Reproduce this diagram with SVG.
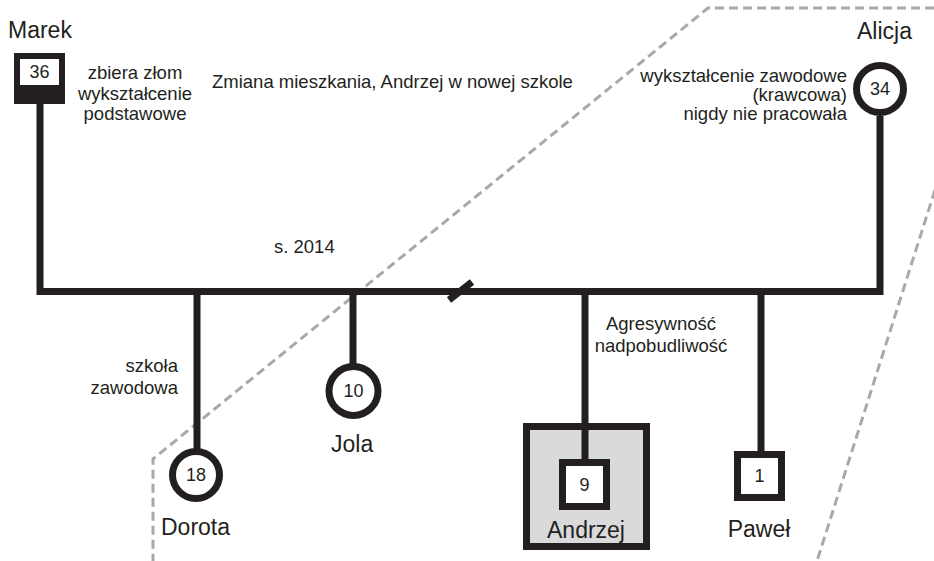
<svg xmlns="http://www.w3.org/2000/svg" width="934" height="561" viewBox="0 0 934 561">
<style>
text{font-family:"Liberation Sans",Arial,sans-serif;fill:#231f20}
.name{font-size:23px}
.note{font-size:18.5px}
.num{font-size:18px;text-anchor:middle}
.ln{stroke:#231f20;stroke-width:7;fill:none}
.dash{stroke:#a7a9ac;stroke-width:3;fill:none;stroke-dasharray:9 5}
.circ{fill:#fff;stroke:#231f20;stroke-width:7}
.sq{fill:#fff;stroke:#231f20;stroke-width:7}
</style>
<rect width="934" height="561" fill="#fff"/>
<g id="household-boundary">
<path class="dash" d="M934 8 H708 L153 459 V561"/>
<path class="dash" d="M935 190 L817 561"/>
</g>
<g id="connectors">
<path class="ln" d="M40 104 V291.5 H880 V116"/>
<line class="ln" x1="197" y1="291" x2="197" y2="449"/>
<line class="ln" x1="353" y1="291" x2="353" y2="364"/>
<line class="ln" x1="585" y1="291" x2="585" y2="460"/>
<line class="ln" x1="761" y1="291" x2="761" y2="452"/>
<line class="ln" x1="449" y1="300" x2="472" y2="282"/>
</g>
<g id="marek">
<rect x="14" y="53" width="51" height="51" fill="#231f20"/>
<rect x="20" y="59" width="39" height="26" fill="#fff"/>
<text class="num" x="39.5" y="78">36</text>
<text class="name" x="8" y="38">Marek</text>
<text class="note" text-anchor="middle"><tspan x="135" y="79">zbiera złom</tspan><tspan x="135" y="100">wykształcenie</tspan><tspan x="135" y="120">podstawowe</tspan></text>
</g>
<g id="alicja">
<circle class="circ" cx="880" cy="89" r="23.5"/>
<text class="num" x="880" y="95">34</text>
<text class="name" x="857" y="39">Alicja</text>
<text class="note" text-anchor="end"><tspan x="847" y="82">wykształcenie zawodowe</tspan><tspan x="847" y="101">(krawcowa)</tspan><tspan x="847" y="120">nigdy nie pracowała</tspan></text>
</g>
<g id="event">
<text class="note" x="212" y="88">Zmiana mieszkania, Andrzej w nowej szkole</text>
<text class="note" x="274" y="253">s. 2014</text>
</g>
<g id="dorota">
<circle class="circ" cx="196" cy="475" r="23.5"/>
<text class="num" x="196" y="481">18</text>
<text class="name" x="161" y="535">Dorota</text>
<text class="note" text-anchor="end"><tspan x="178" y="372">szkoła</tspan><tspan x="178" y="394">zawodowa</tspan></text>
</g>
<g id="jola">
<circle class="circ" cx="353.5" cy="391" r="24.5"/>
<text class="num" x="353.5" y="397">10</text>
<text class="name" x="331" y="452">Jola</text>
</g>
<g id="andrzej">
<rect x="526.5" y="426.5" width="120" height="120" fill="#d9dadc" stroke="#231f20" stroke-width="7"/>
<line class="ln" x1="585" y1="426" x2="585" y2="460"/>
<rect class="sq" x="562.5" y="462.5" width="44" height="44"/>
<text class="num" x="584.5" y="491">9</text>
<text class="name" x="586" y="538" text-anchor="middle">Andrzej</text>
<text class="note" text-anchor="middle"><tspan x="661" y="330">Agresywność</tspan><tspan x="661" y="352">nadpobudliwość</tspan></text>
</g>
<g id="pawel">
<rect class="sq" x="737.5" y="454.5" width="44" height="43"/>
<text class="num" x="759.5" y="482">1</text>
<text class="name" x="759" y="537" text-anchor="middle">Paweł</text>
</g>
</svg>
